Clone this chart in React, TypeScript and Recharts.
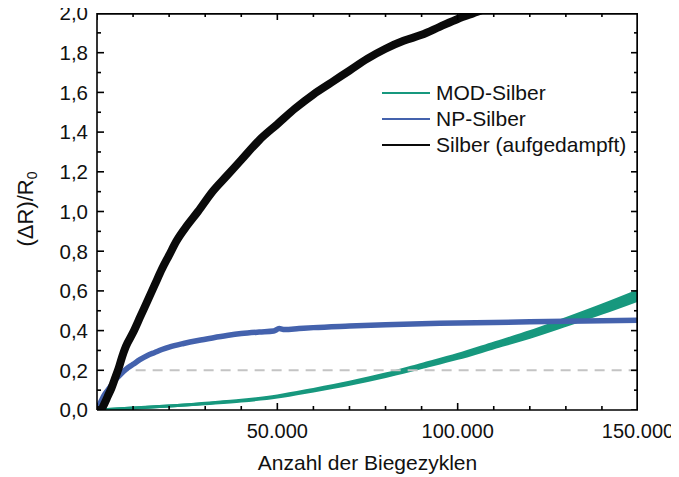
import React from "react";
import { ComposedChart, Line, Area, Scatter, XAxis, YAxis } from "recharts";

// ---- data ----
const xTicks = [0, 10000, 20000, 30000, 40000, 50000, 60000, 70000, 80000, 90000, 100000, 110000, 120000, 130000, 140000, 150000];
const xLabelTicks = [50000, 100000, 150000];
const yTicks = [0, 0.1, 0.2, 0.3, 0.4, 0.5, 0.6, 0.7, 0.8, 0.9, 1.0, 1.1, 1.2, 1.3, 1.4, 1.5, 1.6, 1.7, 1.8, 1.9, 2.0];
const xMax = 150000;
const yMax = 2;

const agCycles = [0, 1000, 2000, 3000, 4000, 5000, 6000, 7000, 8000, 10000, 12000, 14000, 16000, 18000, 20000, 22000, 25000, 28000, 32000, 36000, 40000, 45000, 50000, 55000, 60000, 65000, 70000, 75000, 80000, 85000, 90000, 95000, 100000, 106000, 110000];
const agValues = [0, 0.0, 0.03, 0.07, 0.11, 0.16, 0.21, 0.27, 0.32, 0.39, 0.47, 0.55, 0.63, 0.71, 0.78, 0.85, 0.93, 1.0, 1.1, 1.18, 1.26, 1.36, 1.44, 1.52, 1.59, 1.65, 1.71, 1.77, 1.82, 1.86, 1.89, 1.93, 1.97, 2.01, 2.04];

const npCycles = [0, 1000, 2000, 3000, 4000, 5000, 6000, 8000, 10000, 12000, 14000, 16000, 18000, 20000, 24000, 28000, 32000, 36000, 40000, 45000, 49000, 50500, 52000, 56000, 60000, 70000, 80000, 90000, 100000, 110000, 120000, 130000, 140000, 150000];
const npValues = [0.01, 0.04, 0.075, 0.1, 0.125, 0.15, 0.17, 0.205, 0.23, 0.255, 0.275, 0.29, 0.305, 0.317, 0.335, 0.35, 0.363, 0.375, 0.385, 0.393, 0.398, 0.41, 0.405, 0.41, 0.415, 0.423, 0.43, 0.435, 0.438, 0.441, 0.444, 0.447, 0.449, 0.452];

const modCycles = [0, 10000, 20000, 30000, 40000, 50000, 60000, 70000, 80000, 90000, 100000, 110000, 120000, 130000, 140000, 150000];
const modLow = [0, 0.01, 0.02, 0.032, 0.045, 0.065, 0.096, 0.13, 0.169, 0.214, 0.26, 0.313, 0.366, 0.426, 0.488, 0.554];
const modHigh = [0, 0.01, 0.02, 0.034, 0.049, 0.071, 0.104, 0.14, 0.181, 0.23, 0.28, 0.337, 0.394, 0.46, 0.528, 0.6];

const thresholdCycles = [6000, 150000];
const thresholdValues = [0.2, 0.2];

const seriesNames = ["MOD-Silber", "NP-Silber", "Silber (aufgedampft)"];
const seriesColors = ["#17987e", "#4462ad", "#0a0a0a"];

// ---- tables built from arrays ----
const agData = agCycles.map((x, i) => ({ x, y: agValues[i] }));
const npData = npCycles.map((x, i) => ({ x, y: npValues[i] }));
const modData = modCycles.map((x, i) => ({ x, range: [modLow[i], modHigh[i]] }));
const thresholdData = thresholdCycles.map((x, i) => ({ x, y: thresholdValues[i] }));
const topFrameData = [
  { x: 0, y: yMax },
  { x: xMax, y: yMax },
];
const rightFrameData = [
  { x: xMax, y: yMax },
  { x: xMax, y: 0 },
];
const isMajorX = (v: number) => v % 50000 === 0;
const isMajorY = (v: number) => Math.round(v * 10) % 2 === 0;
const tickMarkData = [
  ...xTicks.map((x) => ({ x, y: 0, side: "bottom", major: isMajorX(x) })),
  ...xTicks.map((x) => ({ x, y: yMax, side: "top", major: isMajorX(x) })),
  ...yTicks.map((y) => ({ x: 0, y, side: "left", major: isMajorY(y) })),
  ...yTicks.map((y) => ({ x: xMax, y, side: "right", major: isMajorY(y) })),
];

const FONT = '"Liberation Sans", Arial, Helvetica, sans-serif';
const W = 679;
const H = 477;
const MARGIN = { top: 13, right: 41, bottom: 37, left: 37 };

const fmtX = (v: number) => String(v).replace(/\B(?=(\d{3})+(?!\d))/g, ".");
const fmtY = (v: number) => v.toFixed(1).replace(".", ",");

const TickMark = (p: any) => {
  const { cx, cy, payload } = p;
  if (cx == null || cy == null || !payload) return null;
  const len = payload.major ? 7 : 4;
  let x2 = cx;
  let y2 = cy;
  if (payload.side === "bottom") y2 = cy - len;
  if (payload.side === "top") y2 = cy + len;
  if (payload.side === "left") x2 = cx + len;
  if (payload.side === "right") x2 = cx - len;
  return <path d={`M${cx},${cy}L${x2},${y2}`} stroke="#000" strokeWidth={1.6} fill="none" />;
};

const BottomLabel = (p: any) => {
  const v = p.payload.value;
  if (!xLabelTicks.includes(v)) return <g />;
  return (
    <text x={p.x} y={p.y + 28} textAnchor="middle" fontSize={20} fontFamily={FONT} fill="#111">
      {fmtX(v)}
    </text>
  );
};

const LeftLabel = (p: any) => {
  const v = p.payload.value;
  if (!isMajorY(v)) return <g />;
  return (
    <text x={p.x - 9} y={p.y} dy="0.36em" textAnchor="end" fontSize={20.5} fontFamily={FONT} fill="#111">
      {fmtY(v)}
    </text>
  );
};

const XTitle = () => (
  <text x={367.5} y={470} textAnchor="middle" fontSize={21} fontFamily={FONT} fill="#111">
    Anzahl der Biegezyklen
  </text>
);

const YTitle = () => (
  <text transform="rotate(-90)" x={-209} y={33} textAnchor="middle" fontSize={22} fontFamily={FONT} fill="#111">
    (ΔR)/R
    <tspan fontSize={14} dy={4}>0</tspan>
  </text>
);

const axisLine = { stroke: "#000", strokeWidth: 1.6 };

const frameProps = {
  dataKey: "y",
  type: "linear" as const,
  stroke: "#000",
  strokeWidth: 3.4,
  dot: false,
  activeDot: false,
  legendType: "none" as const,
  isAnimationActive: false,
};

export default function App() {
  return (
    <div style={{ position: "relative", width: W, height: H, margin: "-8px 0 0 -8px", fontFamily: FONT }}>
      <ComposedChart width={W} height={H} margin={MARGIN} style={{ overflow: "visible" }}>
        <XAxis
          dataKey="x"
          type="number"
          domain={[0, xMax]}
          ticks={xTicks}
          interval={0}
          allowDataOverflow
          tick={<BottomLabel />}
          tickLine={false}
          tickSize={0}
          tickMargin={0}
          axisLine={axisLine}
          height={30}
          label={{ content: () => <XTitle /> }}
        />
        <YAxis
          dataKey="y"
          type="number"
          domain={[0, yMax]}
          ticks={yTicks}
          interval={0}
          allowDataOverflow
          tick={<LeftLabel />}
          tickLine={false}
          tickSize={0}
          tickMargin={0}
          axisLine={axisLine}
          width={60}
          label={{ content: () => <YTitle /> }}
        />
        <Line
          data={thresholdData}
          dataKey="y"
          stroke="#c4c4c4"
          strokeWidth={2}
          strokeDasharray="10 7"
          dot={false}
          activeDot={false}
          isAnimationActive={false}
        />
        <Line
          data={npData}
          dataKey="y"
          type="monotone"
          stroke={seriesColors[1]}
          strokeWidth={5.5}
          dot={false}
          activeDot={false}
          isAnimationActive={false}
        />
        <Area
          data={modData}
          dataKey="range"
          type="monotone"
          stroke={seriesColors[0]}
          strokeWidth={3}
          fill={seriesColors[0]}
          fillOpacity={1}
          dot={false}
          activeDot={false}
          isAnimationActive={false}
        />
        <Line
          data={agData}
          dataKey="y"
          type="monotone"
          stroke={seriesColors[2]}
          strokeWidth={8}
          dot={false}
          activeDot={false}
          isAnimationActive={false}
        />
        <Line data={topFrameData} {...frameProps} />
        <Line data={rightFrameData} {...frameProps} />
        <Scatter data={tickMarkData} dataKey="y" shape={<TickMark />} legendType="none" isAnimationActive={false} />
      </ComposedChart>
      <div style={{ position: "absolute", left: 382, top: 80 }}>
        {seriesNames.map((name, i) => (
          <div key={name} style={{ display: "flex", alignItems: "center", height: 26 }}>
            <div style={{ width: 48, height: 2, background: seriesColors[i], marginRight: 6 }} />
            <span style={{ fontSize: 21, color: "#111", fontFamily: FONT, whiteSpace: "nowrap" }}>{name}</span>
          </div>
        ))}
      </div>
    </div>
  );
}
